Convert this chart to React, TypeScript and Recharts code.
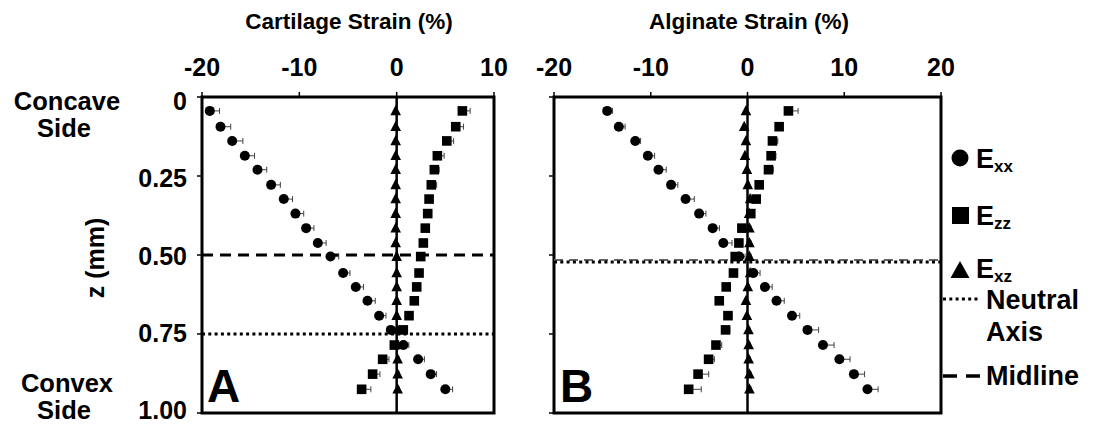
import React from "react";
import {
  ScatterChart,
  Scatter,
  XAxis,
  YAxis,
  ReferenceLine,
  ReferenceArea,
  ErrorBar,
} from "recharts";

// Depth through the sample (mm), shared by both panels
const depthMm = [
  0.044, 0.094, 0.139, 0.186, 0.23, 0.278, 0.323, 0.369, 0.415, 0.462,
  0.505, 0.557, 0.601, 0.645, 0.692, 0.737, 0.785, 0.83, 0.877, 0.925,
];

// Panel A: cartilage strain (%)
const cartExx = [
  -19.2, -18.1, -16.9, -15.6, -14.3, -12.9, -11.6, -10.4, -9.3, -8.1,
  -6.8, -5.5, -4.2, -3.0, -1.8, -0.6, 0.7, 2.2, 3.5, 5.0,
];
const cartExxErr = [
  1.0, 1.05, 1.1, 1.0, 0.95, 0.95, 0.9, 0.85, 0.8, 0.85,
  0.85, 0.7, 0.8, 0.8, 0.7, 0.5, 0.55, 0.65, 0.6, 0.75,
];
const cartEzz = [
  6.75, 6.07, 5.15, 4.18, 3.87, 3.56, 3.33, 3.19, 2.94, 2.74,
  2.47, 2.3, 2.06, 1.81, 1.27, 0.68, -0.24, -1.44, -2.47, -3.6,
];
const cartEzzErr = [
  0.8, 0.8, 0.7, 0.7, 0.5, 0.55, 0.4, 0.4, 0.35, 0.35,
  0.4, 0.35, 0.3, 0.3, 0.3, 0.4, 0.4, 0.65, 0.75, 0.95,
];
const cartExz = [
  -0.1, -0.1, -0.1, -0.1, -0.1, -0.1, -0.1, -0.1, -0.1, -0.1,
  0.0, 0.0, 0.0, 0.0, 0.0, 0.1, 0.1, 0.1, 0.1, 0.1,
];
const cartExzErr = [
  0.15, 0.15, 0.15, 0.15, 0.15, 0.15, 0.15, 0.15, 0.15, 0.15,
  0.15, 0.15, 0.15, 0.15, 0.15, 0.15, 0.15, 0.15, 0.15, 0.15,
];

// Panel B: alginate strain (%)
const algExx = [
  -14.5, -13.3, -11.6, -10.3, -9.2, -7.9, -6.4, -5.0, -3.6, -2.5,
  -0.85, 0.6, 1.8, 3.0, 4.6, 6.2, 7.8, 9.5, 11.0, 12.4,
];
const algExxErr = [
  0.55, 0.65, 0.55, 0.7, 0.8, 0.7, 0.9, 0.7, 0.7, 0.9,
  0.6, 0.7, 0.75, 0.8, 0.8, 1.15, 1.15, 1.1, 1.1, 1.1,
];
const algEzz = [
  4.23, 3.27, 2.58, 2.44, 2.17, 1.21, 0.9, 0.34, -0.58, -0.89,
  -1.27, -1.45, -2.2, -2.92, -2.02, -2.27, -3.26, -4.02, -5.11, -6.08,
];
const algEzzErr = [
  1.0, 0.3, 0.55, 0.5, 0.5, 0.3, 0.3, 0.3, 0.3, 0.3,
  0.35, 0.4, 0.4, 0.4, 0.4, 0.45, 0.6, 0.6, 1.1, 1.3,
];
const algExz = [
  -0.16, -0.34, -0.16, -0.26, -0.06, 0.03, 0.27, 0.17, 0.2, 0.2,
  0.2, 0.27, 0.03, -0.16, -0.06, 0.1, 0.12, 0.12, 0.2, 0.2,
];
const algExzErr = [
  0.15, 0.15, 0.15, 0.15, 0.15, 0.15, 0.15, 0.15, 0.15, 0.15,
  0.15, 0.15, 0.15, 0.15, 0.15, 0.15, 0.15, 0.15, 0.15, 0.15,
];

// Axis ticks and reference depths
const cartTicks = [-20, -10, 0, 10];
const algTicks = [-20, -10, 0, 10, 20];
const depthTicks = [0, 0.25, 0.5, 0.75, 1.0];
const cartMidline = 0.5;
const cartNeutral = 0.75;
const algMidline = 0.516;
const algNeutral = 0.522;

const FONT = "'Liberation Sans', Arial, Helvetica, sans-serif";

const toSeries = (values: number[], errs: number[]) =>
  values.map((v, i) => ({ strain: v, depth: depthMm[i], err: [0, errs[i]] }));

const DotShape = (p: any) => <circle cx={p.cx} cy={p.cy} r={5} fill="#000" />;
const SquareShape = (p: any) => (
  <rect x={p.cx - 4.8} y={p.cy - 4.8} width={9.6} height={9.6} fill="#000" />
);
const TriangleShape = (p: any) => (
  <polygon
    points={`${p.cx},${p.cy - 6} ${p.cx + 5.3},${p.cy + 4.3} ${p.cx - 5.3},${p.cy + 4.3}`}
    fill="#000"
  />
);

const TopTick = (p: any) => (
  <text
    x={p.x}
    y={p.y}
    textAnchor="middle"
    fontFamily={FONT}
    fontWeight="bold"
    fontSize={25}
    fill="#000"
  >
    {p.payload.value}
  </text>
);

const depthLabel = (v: number) => (v === 0 ? "0" : v.toFixed(2));

// depth labels sit a little lower near the top and a little higher near the bottom
const LeftTick = (p: any) => (
  <text
    x={p.x}
    y={p.y + 13 - 7 * p.payload.value}
    textAnchor="end"
    fontFamily={FONT}
    fontWeight="bold"
    fontSize={25}
    fill="#000"
  >
    {depthLabel(p.payload.value)}
  </text>
);

const NoTick = () => <g />;

type Point = { strain: number; depth: number; err: number[] };

type PanelProps = {
  width: number;
  margin: { top: number; right: number; bottom: number; left: number };
  xMin: number;
  xMax: number;
  xTicks: number[];
  yAxisWidth: number;
  showDepthLabels: boolean;
  exx: Point[];
  ezz: Point[];
  exz: Point[];
  midline: number;
  neutral: number;
  midlineStroke: string;
  midlineWidth: number;
  midlineDash: string;
};

function StrainPanel(props: PanelProps) {
  const { xMin, xMax } = props;
  return (
    <ScatterChart width={props.width} height={425} margin={props.margin}>
      <XAxis
        type="number"
        dataKey="strain"
        orientation="top"
        height={50}
        domain={[xMin, xMax]}
        allowDataOverflow
        ticks={props.xTicks}
        interval={0}
        tickSize={5}
        tickMargin={16}
        tick={TopTick}
        axisLine={false}
        tickLine={{ stroke: "#000", strokeWidth: 1.5 }}
      />
      <YAxis
        type="number"
        dataKey="depth"
        reversed
        domain={[0, 1]}
        allowDataOverflow
        ticks={depthTicks}
        interval={0}
        width={props.yAxisWidth}
        tickSize={5}
        tickMargin={10}
        tick={props.showDepthLabels ? LeftTick : NoTick}
        axisLine={false}
        tickLine={{ stroke: "#000", strokeWidth: 1.5 }}
      />
      <ReferenceLine x={0} stroke="#000" strokeWidth={2.5} />
      <ReferenceLine
        y={props.midline}
        stroke={props.midlineStroke}
        strokeWidth={props.midlineWidth}
        strokeDasharray={props.midlineDash}
      />
      <ReferenceLine
        y={props.neutral}
        stroke="#000"
        strokeWidth={3}
        strokeDasharray="3 3.3"
      />
      <Scatter data={props.exz} shape={TriangleShape} isAnimationActive={false}>
        <ErrorBar dataKey="err" direction="x" width={3} stroke="#444" strokeWidth={1} />
      </Scatter>
      <Scatter data={props.ezz} shape={SquareShape} isAnimationActive={false}>
        <ErrorBar dataKey="err" direction="x" width={3} stroke="#444" strokeWidth={1} />
      </Scatter>
      <Scatter data={props.exx} shape={DotShape} isAnimationActive={false}>
        <ErrorBar dataKey="err" direction="x" width={3} stroke="#444" strokeWidth={1} />
      </Scatter>
      <ReferenceArea
        x1={xMin}
        x2={xMax}
        y1={0}
        y2={1}
        fill="none"
        fillOpacity={0}
        stroke="#000"
        strokeWidth={3}
      />
    </ScatterChart>
  );
}

const textStyle = {
  fontFamily: FONT,
  fontWeight: "bold" as const,
  fill: "#000",
};

export default function App() {
  return (
    <div
      style={{
        position: "absolute",
        left: 0,
        top: 0,
        width: 1113,
        height: 425,
        background: "#fff",
        overflow: "hidden",
      }}
    >
      <div style={{ position: "absolute", left: 0, top: 0 }}>
        <StrainPanel
          width={520}
          margin={{ top: 47, right: 26, bottom: 12, left: 102 }}
          xMin={-20}
          xMax={10}
          xTicks={cartTicks}
          yAxisWidth={100}
          showDepthLabels
          exx={toSeries(cartExx, cartExxErr)}
          ezz={toSeries(cartEzz, cartEzzErr)}
          exz={toSeries(cartExz, cartExzErr)}
          midline={cartMidline}
          neutral={cartNeutral}
          midlineStroke="#000"
          midlineWidth={3}
          midlineDash="11 7"
        />
      </div>
      <div style={{ position: "absolute", left: 530, top: 0 }}>
        <StrainPanel
          width={430}
          margin={{ top: 47, right: 19, bottom: 12, left: 10 }}
          xMin={-20}
          xMax={20}
          xTicks={algTicks}
          yAxisWidth={14}
          showDepthLabels={false}
          exx={toSeries(algExx, algExxErr)}
          ezz={toSeries(algEzz, algEzzErr)}
          exz={toSeries(algExz, algExzErr)}
          midline={algMidline}
          neutral={algNeutral}
          midlineStroke="#666"
          midlineWidth={2}
          midlineDash="9 6"
        />
      </div>
      <svg
        width={1113}
        height={425}
        style={{ position: "absolute", left: 0, top: 0, pointerEvents: "none" }}
      >
        <text x={349} y={29} textAnchor="middle" fontSize={22.5} {...textStyle}>
          Cartilage Strain (%)
        </text>
        <text x={749} y={29} textAnchor="middle" fontSize={22.5} {...textStyle}>
          Alginate Strain (%)
        </text>

        <text x={67} y={110} textAnchor="middle" fontSize={25.5} {...textStyle}>
          Concave
        </text>
        <text x={64} y={137} textAnchor="middle" fontSize={25.5} {...textStyle}>
          Side
        </text>
        <text x={67} y={392} textAnchor="middle" fontSize={25.5} {...textStyle}>
          Convex
        </text>
        <text x={64} y={419} textAnchor="middle" fontSize={25.5} {...textStyle}>
          Side
        </text>
        <text
          x={95}
          y={258}
          textAnchor="middle"
          dominantBaseline="central"
          fontSize={25}
          transform="rotate(-90 95 258)"
          {...textStyle}
        >
          z (mm)
        </text>

        <text x={207} y={402} fontSize={46} {...textStyle}>
          A
        </text>
        <text x={560} y={402} fontSize={46} {...textStyle}>
          B
        </text>

        {/* legend */}
        <circle cx={960} cy={158} r={8.5} fill="#000" />
        <text x={976} y={168} fontSize={27} {...textStyle}>
          E
          <tspan fontSize={17} dy={4}>
            xx
          </tspan>
        </text>
        <rect x={952} y={207} width={17} height={17} fill="#000" />
        <text x={976} y={225} fontSize={27} {...textStyle}>
          E
          <tspan fontSize={17} dy={4}>
            zz
          </tspan>
        </text>
        <polygon points="960,261 969.5,278 950.5,278" fill="#000" />
        <text x={976} y={278} fontSize={27} {...textStyle}>
          E
          <tspan fontSize={17} dy={4}>
            xz
          </tspan>
        </text>
        <line
          x1={943}
          y1={299}
          x2={980}
          y2={299}
          stroke="#000"
          strokeWidth={3}
          strokeDasharray="3 3.3"
        />
        <text x={986} y={309} fontSize={27} {...textStyle}>
          Neutral
        </text>
        <text x={986} y={341} fontSize={27} {...textStyle}>
          Axis
        </text>
        <line
          x1={943}
          y1={376}
          x2={980}
          y2={376}
          stroke="#000"
          strokeWidth={3.5}
          strokeDasharray="14 9"
        />
        <text x={986} y={385} fontSize={27} {...textStyle}>
          Midline
        </text>
      </svg>
    </div>
  );
}
